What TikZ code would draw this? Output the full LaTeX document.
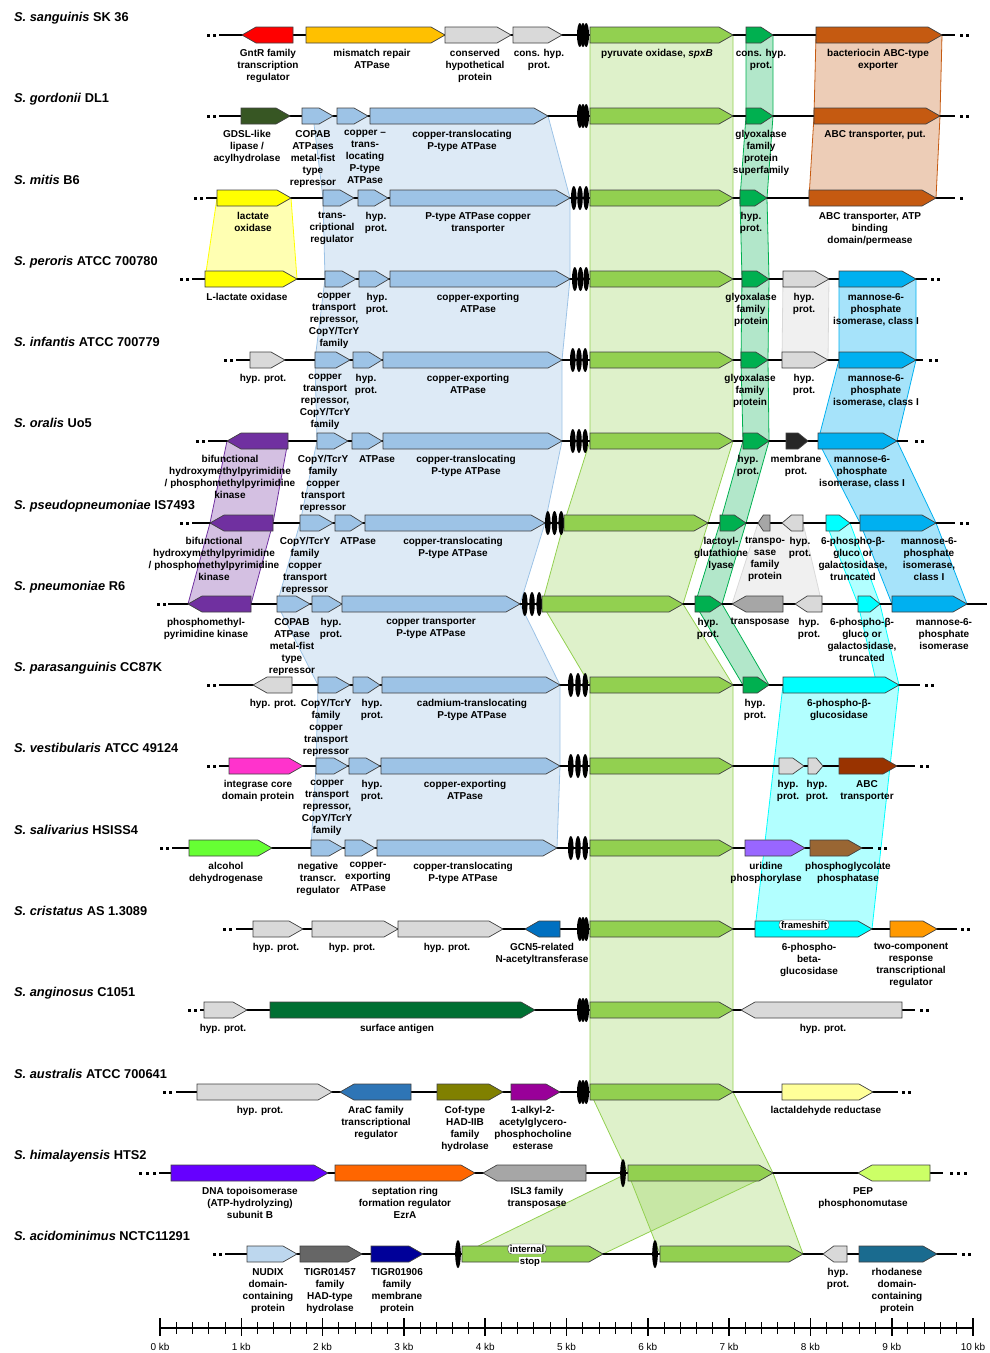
\documentclass[tikz,border=0pt]{standalone}
\usepackage{fontspec}
\setmainfont{Liberation Sans}
\usepackage{tikz}
\usetikzlibrary{positioning}

\definecolor{spx}{HTML}{92D050}
\definecolor{cop}{HTML}{9DC3E6}
\definecolor{gly}{HTML}{00B050}
\definecolor{hyp}{HTML}{D9D9D9}
\definecolor{tra}{HTML}{A6A6A6}
\definecolor{abc}{HTML}{C55A11}
\definecolor{lox}{HTML}{FFFF00}
\definecolor{man}{HTML}{00B0F0}
\definecolor{cya}{HTML}{00FFFF}
\definecolor{pur}{HTML}{7030A0}
\definecolor{mis}{HTML}{FFC000}
\definecolor{gdsl}{HTML}{375623}
\definecolor{memb}{HTML}{262626}
\definecolor{mag}{HTML}{FF33CC}
\definecolor{brn}{HTML}{993300}
\definecolor{alc}{HTML}{66FF33}
\definecolor{uri}{HTML}{9966FF}
\definecolor{pgp}{HTML}{996633}
\definecolor{gcn}{HTML}{0070C0}
\definecolor{two}{HTML}{FF9900}
\definecolor{sfa}{HTML}{007033}
\definecolor{arac}{HTML}{2E75B6}
\definecolor{cof}{HTML}{808000}
\definecolor{alk}{HTML}{990099}
\definecolor{lald}{HTML}{FFFF99}
\definecolor{topo}{HTML}{6600FF}
\definecolor{sept}{HTML}{FF6600}
\definecolor{pep}{HTML}{CCFF66}
\definecolor{nud}{HTML}{BDD7EE}
\definecolor{tiga}{HTML}{666666}
\definecolor{tigb}{HTML}{000099}
\definecolor{rho}{HTML}{1A6B8F}

\tikzstyle{gene}=[draw=black!75,line width=0.7pt]
\tikzstyle{track}=[line width=2.4pt,black]
\tikzstyle{glab}=[anchor=north,align=center,inner sep=0pt,font=\fontsize{10}{12}\selectfont\bfseries]
\tikzstyle{sp}=[anchor=base west,inner sep=0pt,font=\fontsize{12.8}{14}\selectfont\bfseries]
\tikzstyle{fsbox}=[fill=white,draw=black!75,rounded corners=4pt,inner xsep=2pt,inner ysep=1.5pt,font=\fontsize{9.5}{10}\selectfont\bfseries]
\tikzset{band/.style={fill=#1,fill opacity=.3,draw=#1,line width=.8pt}}

% gene arrow: fill, start, end, row, r/l
\newcommand{\gene}[5]{%
  \pgfmathsetmacro{\ghead}{min(14,0.45*(#3-#2))}
  \ifx r#5
    \filldraw[gene,fill=#1] (#2,#4-8) -- ({#3-\ghead},#4-8) -- (#3,#4) -- ({#3-\ghead},#4+8) -- (#2,#4+8) -- cycle;
  \else
    \filldraw[gene,fill=#1] (#3,#4-8) -- ({#2+\ghead},#4-8) -- (#2,#4) -- ({#2+\ghead},#4+8) -- (#3,#4+8) -- cycle;
  \fi}
% contig break: left, row, width
\newcommand{\brk}[3]{%
  \fill (#1+2.8,#2) ellipse (2.8pt and 12pt);
  \fill ({#1+#3/2},#2) ellipse (2.8pt and 12pt);
  \fill ({#1+#3-2.8},#2) ellipse (2.8pt and 12pt);}
\newcommand{\sbrk}[2]{\fill (#1,#2) ellipse (2.8pt and 14pt);}
\newcommand{\trk}[3]{\draw[track] (#1,#3) -- (#2,#3);}
\newcommand{\dt}[2]{\fill (#1-1.5,#2-1.5) rectangle (#1+1.5,#2+1.5);}
\newcommand{\lbl}[4]{\node[glab] (#1) at (#2,#3+14) {#4};}

\begin{document}
\begin{tikzpicture}[x=1pt,y=-1pt]
\useasboundingbox (0,0) rectangle (989,1353);

% homology bands
\filldraw[band=spx] (590,35) -- (590,441) -- (564,523) -- (542,604) -- (590,685) -- (590,1092) -- (628,1173) -- (660,1254) -- (803,1254) -- (773,1173) -- (733,1092) -- (733,685) -- (683,604) -- (708,523) -- (733,441) -- (733,35) -- cycle;
\filldraw[band=spx] (628,1173) -- (773,1173) -- (603,1254) -- (462,1254) -- cycle;
\filldraw[band=cop,fill opacity=.35] (313,116) -- (323,198) -- (325,279) -- (315,360) -- (317,441) -- (300,523) -- (277,604) -- (318,685) -- (316,766) -- (311,848) -- (557,848) -- (560,766) -- (560,685) -- (520,604) -- (545,523) -- (562,441) -- (562,360) -- (570,279) -- (570,198) -- (548,116) -- cycle;
\filldraw[band=gly] (746,35) -- (746,116) -- (740,198) -- (742,279) -- (741,360) -- (743,441) -- (720,523) -- (695,604) -- (743,685) -- (769,685) -- (722,604) -- (746,523) -- (769,441) -- (768,360) -- (769,279) -- (767,198) -- (773,116) -- (773,35) -- cycle;
\filldraw[band=abc] (816,35) -- (814,116) -- (809,198) -- (936,198) -- (940,116) -- (942,35) -- cycle;
\filldraw[band=lox] (217,198) -- (205,279) -- (297,279) -- (291,198) -- cycle;
\filldraw[band=hyp,fill opacity=.4] (783,279) -- (782,360) -- (828,360) -- (829,279) -- cycle;
\filldraw[band=man,fill opacity=.35] (839,279) -- (839,360) -- (818,441) -- (860,523) -- (892,604) -- (967,604) -- (936,523) -- (897,441) -- (916,360) -- (916,279) -- cycle;
\filldraw[band=pur] (227,441) -- (210,523) -- (188,604) -- (251,604) -- (273,523) -- (288,441) -- cycle;
\filldraw[band=hyp,fill opacity=.4] (758,523) -- (732,604) -- (822,604) -- (803,523) -- cycle;
\filldraw[band=cya] (826,523) -- (858,604) -- (880,604) -- (850,523) -- cycle;
\filldraw[band=cya] (858,604) -- (877,685) -- (899,685) -- (880,604) -- cycle;
\filldraw[band=cya] (783,685) -- (755,929) -- (872,929) -- (899,685) -- cycle;

% S. sanguinis
\node[sp] (sang) at (14,21) {\textit{S. sanguinis} SK 36};
\dt{208}{35}\dt{214}{35}\trk{219}{955}{35}\dt{961}{35}\dt{967}{35}
\gene{red}{242}{293}{35}{l}
\gene{mis}{306}{445}{35}{r}
\gene{hyp}{445}{511}{35}{r}
\gene{hyp}{513}{562}{35}{r}
\brk{577}{35}{12}
\gene{spx}{590}{733}{35}{r}
\gene{gly}{746}{773}{35}{r}
\gene{abc}{816}{942}{35}{r}
\lbl{a1}{268}{35}{GntR family\\transcription\\regulator}
\lbl{a2}{372}{35}{mismatch repair\\ATPase}
\lbl{a3}{475}{35}{conserved\\hypothetical\\protein}
\lbl{a4}{539}{35}{cons. hyp.\\prot.}
\lbl{a5}{657}{35}{pyruvate oxidase, \textit{spxB}}
\lbl{a6}{761}{35}{cons. hyp.\\prot.}
\lbl{a7}{878}{35}{bacteriocin ABC-type\\exporter}

% S. gordonii
\node[sp] (gord) at (14,102) {\textit{S. gordonii} DL1};
\dt{208}{116}\dt{214}{116}\trk{219}{955}{116}\dt{961}{116}\dt{967}{116}
\gene{gdsl}{241}{290}{116}{r}
\gene{cop}{302}{333}{116}{r}
\gene{cop}{337}{368}{116}{r}
\gene{cop}{370}{548}{116}{r}
\brk{577}{116}{12}
\gene{spx}{590}{733}{116}{r}
\gene{gly}{746}{773}{116}{r}
\gene{abc}{814}{940}{116}{r}
\lbl{b1}{247}{116}{GDSL-like\\lipase /\\acylhydrolase}
\lbl{b2}{313}{116}{COPAB\\ATPases\\metal-fist\\type\\repressor}
\lbl{b3}{365}{116}{copper --\\trans-\\locating\\P-type\\ATPase}
\lbl{b4}{462}{116}{copper-translocating\\P-type ATPase}
\lbl{b5}{761}{116}{glyoxalase\\family\\protein\\superfamily}
\lbl{b6}{875}{116}{ABC transporter, put.}

% S. mitis
\node[sp] (mitis) at (14,184) {\textit{S. mitis} B6};
\dt{195}{198}\dt{201}{198}\trk{206}{955}{198}\dt{961}{198}
\gene{lox}{217}{291}{198}{r}
\gene{cop}{323}{354}{198}{r}
\gene{cop}{358}{388}{198}{r}
\gene{cop}{390}{570}{198}{r}
\brk{571}{198}{18}
\gene{spx}{590}{733}{198}{r}
\gene{gly}{740}{767}{198}{r}
\gene{abc}{809}{936}{198}{r}
\lbl{c1}{253}{198}{lactate\\oxidase}
\lbl{c2}{332}{198}{trans-\\criptional\\regulator}
\lbl{c3}{376}{198}{hyp.\\prot.}
\lbl{c4}{478}{198}{P-type ATPase copper\\transporter}
\lbl{c5}{751}{198}{hyp.\\prot.}
\lbl{c6}{870}{198}{ABC transporter, ATP\\binding\\domain/permease}

% S. peroris
\node[sp] (peroris) at (14,265) {\textit{S. peroris} ATCC 700780};
\dt{181}{279}\dt{187}{279}\trk{192}{927}{279}\dt{932}{279}\dt{938}{279}
\gene{lox}{205}{297}{279}{r}
\gene{cop}{325}{356}{279}{r}
\gene{cop}{359}{389}{279}{r}
\gene{cop}{390}{570}{279}{r}
\brk{572}{279}{17}
\gene{spx}{590}{733}{279}{r}
\gene{gly}{742}{769}{279}{r}
\gene{hyp}{783}{829}{279}{r}
\gene{man}{839}{916}{279}{r}
\lbl{d1}{247}{279}{L-lactate oxidase}
\lbl{d2}{334}{279}{copper\\transport\\repressor,\\CopY/TcrY\\family}
\lbl{d3}{377}{279}{hyp.\\prot.}
\lbl{d4}{478}{279}{copper-exporting\\ATPase}
\lbl{d5}{751}{279}{glyoxalase\\family\\protein}
\lbl{d6}{804}{279}{hyp.\\prot.}
\lbl{d7}{876}{279}{mannose-6-\\phosphate\\isomerase, class I}

% S. infantis
\node[sp] (infantis) at (14,346) {\textit{S. infantis} ATCC 700779};
\dt{225}{360}\dt{231}{360}\trk{236}{923}{360}\dt{930}{360}\dt{936}{360}
\gene{hyp}{250}{285}{360}{r}
\gene{cop}{315}{350}{360}{r}
\gene{cop}{353}{382}{360}{r}
\gene{cop}{383}{562}{360}{r}
\brk{570}{360}{18}
\gene{spx}{590}{733}{360}{r}
\gene{gly}{741}{768}{360}{r}
\gene{hyp}{782}{828}{360}{r}
\gene{man}{839}{916}{360}{r}
\lbl{e1}{263}{360}{hyp. prot.}
\lbl{e2}{325}{360}{copper\\transport\\repressor,\\CopY/TcrY\\family}
\lbl{e3}{366}{360}{hyp.\\prot.}
\lbl{e4}{468}{360}{copper-exporting\\ATPase}
\lbl{e5}{750}{360}{glyoxalase\\family\\protein}
\lbl{e6}{804}{360}{hyp.\\prot.}
\lbl{e7}{876}{360}{mannose-6-\\phosphate\\isomerase, class I}

% S. oralis
\node[sp] (oralis) at (14,427) {\textit{S. oralis} Uo5};
\dt{197}{441}\dt{203}{441}\trk{208}{908}{441}\dt{916}{441}\dt{922}{441}
\gene{pur}{227}{288}{441}{l}
\gene{cop}{317}{348}{441}{r}
\gene{cop}{352}{382}{441}{r}
\gene{cop}{383}{562}{441}{r}
\brk{570}{441}{18}
\gene{spx}{590}{733}{441}{r}
\gene{gly}{743}{769}{441}{r}
\gene{memb}{786}{808}{441}{r}
\gene{man}{818}{897}{441}{r}
\lbl{f1}{230}{441}{bifunctional\\hydroxymethylpyrimidine\\/ phosphomethylpyrimidine\\kinase}
\lbl{f2}{323}{441}{CopY/TcrY\\family\\copper\\transport\\repressor}
\lbl{f3}{377}{441}{ATPase}
\lbl{f4}{466}{441}{copper-translocating\\P-type ATPase}
\lbl{f5}{748}{441}{hyp.\\prot.}
\lbl{f6}{796}{441}{membrane\\prot.}
\lbl{f7}{862}{441}{mannose-6-\\phosphate\\isomerase, class I}

% S. pseudopneumoniae
\node[sp] (pseudo) at (14,509) {\textit{S. pseudopneumoniae} IS7493};
\dt{181}{523}\dt{187}{523}\trk{192}{955}{523}\dt{961}{523}\dt{967}{523}
\gene{pur}{210}{273}{523}{l}
\gene{cop}{300}{333}{523}{r}
\gene{cop}{335}{363}{523}{r}
\gene{cop}{365}{545}{523}{r}
\brk{545}{523}{19}
\gene{spx}{564}{708}{523}{r}
\gene{gly}{720}{746}{523}{r}
\gene{tra}{758}{770}{523}{l}
\gene{hyp}{782}{803}{523}{l}
\gene{cya}{826}{850}{523}{r}
\gene{man}{860}{936}{523}{r}
\lbl{g1}{214}{523}{bifunctional\\hydroxymethylpyrimidine\\/ phosphomethylpyrimidine\\kinase}
\lbl{g2}{305}{523}{CopY/TcrY\\family\\copper\\transport\\repressor}
\lbl{g3}{358}{523}{ATPase}
\lbl{g4}{453}{523}{copper-translocating\\P-type ATPase}
\lbl{g5}{721}{523}{lactoyl-\\glutathione\\lyase}
\lbl{g6}{765}{523}{transpo-\\sase\\family\\protein}
\lbl{g7}{800}{523}{hyp.\\prot.}
\lbl{g8}{853}{523}{6-phospho-β-\\gluco or\\galactosidase,\\truncated}
\lbl{g9}{929}{523}{mannose-6-\\phosphate\\isomerase,\\class I}

% S. pneumoniae
\node[sp] (pneumo) at (14,590) {\textit{S. pneumoniae} R6};
\dt{158}{604}\dt{164}{604}\trk{168}{987}{604}
\gene{pur}{188}{251}{604}{l}
\gene{cop}{277}{310}{604}{r}
\gene{cop}{312}{342}{604}{r}
\gene{cop}{342}{520}{604}{r}
\brk{522}{604}{20}
\gene{spx}{542}{683}{604}{r}
\gene{gly}{695}{722}{604}{r}
\gene{tra}{732}{783}{604}{l}
\gene{hyp}{795}{822}{604}{l}
\gene{cya}{858}{880}{604}{r}
\gene{man}{892}{967}{604}{r}
\lbl{h1}{206}{604}{phosphomethyl-\\pyrimidine kinase}
\lbl{h2}{292}{604}{COPAB\\ATPase\\metal-fist\\type\\repressor}
\lbl{h3}{331}{604}{hyp.\\prot.}
\lbl{h4}{431}{604}{copper transporter\\P-type ATPase}
\lbl{h5}{708}{604}{hyp.\\prot.}
\lbl{h6}{760}{604}{transposase}
\lbl{h7}{809}{604}{hyp.\\prot.}
\lbl{h8}{862}{604}{6-phospho-β-\\gluco or\\galactosidase,\\truncated}
\lbl{h9}{944}{604}{mannose-6-\\phosphate\\isomerase}

% S. parasanguinis
\node[sp] (para) at (14,671) {\textit{S. parasanguinis} CC87K};
\dt{208}{685}\dt{214}{685}\trk{219}{920}{685}\dt{926}{685}\dt{932}{685}
\gene{hyp}{253}{292}{685}{l}
\gene{cop}{318}{350}{685}{r}
\gene{cop}{353}{380}{685}{r}
\gene{cop}{382}{560}{685}{r}
\brk{568}{685}{20}
\gene{spx}{590}{733}{685}{r}
\gene{gly}{743}{769}{685}{r}
\gene{cya}{783}{899}{685}{r}
\lbl{i1}{273}{685}{hyp. prot.}
\lbl{i2}{326}{685}{CopY/TcrY\\family\\copper\\transport\\repressor}
\lbl{i3}{372}{685}{hyp.\\prot.}
\lbl{i4}{472}{685}{cadmium-translocating\\P-type ATPase}
\lbl{i5}{755}{685}{hyp.\\prot.}
\lbl{i6}{839}{685}{6-phospho-β-\\glucosidase}

% S. vestibularis
\node[sp] (vest) at (14,752) {\textit{S. vestibularis} ATCC 49124};
\dt{208}{766}\dt{214}{766}\trk{219}{915}{766}\dt{921}{766}\dt{927}{766}
\gene{mag}{229}{303}{766}{r}
\gene{cop}{316}{348}{766}{r}
\gene{cop}{349}{380}{766}{r}
\gene{cop}{381}{560}{766}{r}
\brk{568}{766}{20}
\gene{spx}{590}{733}{766}{r}
\gene{hyp}{779}{804}{766}{r}
\gene{hyp}{808}{823}{766}{r}
\gene{brn}{839}{897}{766}{r}
\lbl{j1}{258}{766}{integrase core\\domain protein}
\lbl{j2}{327}{766}{copper\\transport\\repressor,\\CopY/TcrY\\family}
\lbl{j3}{372}{766}{hyp.\\prot.}
\lbl{j4}{465}{766}{copper-exporting\\ATPase}
\lbl{j5}{788}{766}{hyp.\\prot.}
\lbl{j6}{817}{766}{hyp.\\prot.}
\lbl{j7}{867}{766}{ABC\\transporter}

% S. salivarius
\node[sp] (saliv) at (14,834) {\textit{S. salivarius} HSISS4};
\dt{161}{848}\dt{167}{848}\trk{172}{873}{848}\dt{879}{848}\dt{885}{848}
\gene{alc}{189}{272}{848}{r}
\gene{cop}{311}{343}{848}{r}
\gene{cop}{345}{375}{848}{r}
\gene{cop}{377}{557}{848}{r}
\brk{568}{848}{20}
\gene{spx}{590}{733}{848}{r}
\gene{uri}{745}{805}{848}{r}
\gene{pgp}{810}{862}{848}{r}
\lbl{k1}{226}{848}{alcohol\\dehydrogenase}
\lbl{k2}{318}{848}{negative\\transcr.\\regulator}
\lbl{k3}{368}{848}{copper-\\exporting\\ATPase}
\lbl{k4}{463}{848}{copper-translocating\\P-type ATPase}
\lbl{k5}{766}{848}{uridine\\phosphorylase}
\lbl{k6}{848}{848}{phosphoglycolate\\phosphatase}

% S. cristatus
\node[sp] (crist) at (14,915) {\textit{S. cristatus} AS 1.3089};
\dt{224}{929}\dt{230}{929}\trk{236}{957}{929}\dt{962}{929}\dt{968}{929}
\gene{hyp}{253}{303}{929}{r}
\gene{hyp}{312}{398}{929}{r}
\gene{hyp}{398}{503}{929}{r}
\gene{gcn}{525}{560}{929}{l}
\brk{577}{929}{12}
\gene{spx}{590}{733}{929}{r}
\gene{cya}{755}{872}{929}{r}
\node[fsbox] (fs) at (804,925) {frameshift};
\gene{two}{890}{937}{929}{r}
\lbl{l1}{276}{929}{hyp. prot.}
\lbl{l2}{352}{929}{hyp. prot.}
\lbl{l3}{447}{929}{hyp. prot.}
\lbl{l4}{542}{929}{GCN5-related\\N-acetyltransferase}
\lbl{l5}{809}{929}{6-phospho-\\beta-\\glucosidase}
\lbl{l6}{911}{929}{two-component\\response\\transcriptional\\regulator}

% S. anginosus
\node[sp] (angin) at (14,996) {\textit{S. anginosus} C1051};
\dt{189}{1010}\dt{195}{1010}\trk{200}{915}{1010}\dt{921}{1010}\dt{927}{1010}
\gene{hyp}{204}{247}{1010}{r}
\gene{sfa}{270}{535}{1010}{r}
\brk{577}{1010}{12}
\gene{spx}{590}{733}{1010}{r}
\gene{hyp}{741}{902}{1010}{l}
\lbl{m1}{223}{1010}{hyp. prot.}
\lbl{m2}{397}{1010}{surface antigen}
\lbl{m3}{823}{1010}{hyp. prot.}

% S. australis
\node[sp] (austr) at (14,1078) {\textit{S. australis} ATCC 700641};
\dt{164}{1092}\dt{170}{1092}\trk{176}{898}{1092}\dt{903}{1092}\dt{909}{1092}
\gene{hyp}{197}{332}{1092}{r}
\gene{arac}{340}{411}{1092}{l}
\gene{cof}{437}{503}{1092}{r}
\gene{alk}{511}{560}{1092}{r}
\brk{577}{1092}{12}
\gene{spx}{590}{733}{1092}{r}
\gene{lald}{782}{873}{1092}{r}
\lbl{n1}{260}{1092}{hyp. prot.}
\lbl{n2}{376}{1092}{AraC family\\transcriptional\\regulator}
\lbl{n3}{465}{1092}{Cof-type\\HAD-IIB\\family\\hydrolase}
\lbl{n4}{533}{1092}{1-alkyl-2-\\acetylglycero-\\phosphocholine\\esterase}
\lbl{n5}{826}{1092}{lactaldehyde reductase}

% S. himalayensis
\node[sp] (himal) at (14,1159) {\textit{S. himalayensis} HTS2};
\dt{140}{1173}\dt{147}{1173}\dt{154}{1173}\trk{159}{943}{1173}\dt{951}{1173}\dt{958}{1173}\dt{965}{1173}
\gene{topo}{171}{328}{1173}{r}
\gene{sept}{335}{475}{1173}{r}
\gene{tra}{483}{586}{1173}{l}
\sbrk{623}{1173}
\gene{spx}{628}{773}{1173}{r}
\gene{pep}{858}{930}{1173}{l}
\lbl{o1}{250}{1173}{DNA topoisomerase\\(ATP-hydrolyzing)\\subunit B}
\lbl{o2}{405}{1173}{septation ring\\formation regulator\\EzrA}
\lbl{o3}{537}{1173}{ISL3 family\\transposase}
\lbl{o4}{863}{1173}{PEP\\phosphonomutase}

% S. acidominimus
\node[sp] (acido) at (14,1240) {\textit{S. acidominimus} NCTC11291};
\dt{214}{1254}\dt{220}{1254}\trk{225}{957}{1254}\dt{963}{1254}\dt{969}{1254}
\gene{nud}{247}{297}{1254}{r}
\gene{tiga}{300}{362}{1254}{r}
\gene{tigb}{371}{423}{1254}{r}
\sbrk{458}{1254}
\gene{spx}{462}{603}{1254}{r}
\node[fsbox] (istop) at (527,1249) {internal};
\node[fill=white,inner sep=0.5pt,font=\fontsize{9.5}{10}\selectfont\bfseries] (stp) at (530,1262) {stop};
\sbrk{655}{1254}
\gene{spx}{660}{803}{1254}{r}
\gene{hyp}{823}{847}{1254}{l}
\gene{rho}{859}{937}{1254}{r}
\lbl{p1}{268}{1254}{NUDIX\\domain-\\containing\\protein}
\lbl{p2}{330}{1254}{TIGR01457\\family\\HAD-type\\hydrolase}
\lbl{p3}{397}{1254}{TIGR01906\\family\\membrane\\protein}
\lbl{p4}{838}{1254}{hyp.\\prot.}
\lbl{p5}{897}{1254}{rhodanese\\domain-\\containing\\protein}

% scale bar
\draw[line width=1.6pt] (160,1328) -- (973,1328);
\foreach \m in {0,...,50} \draw[line width=1pt] (160+16.26*\m,1322) -- (160+16.26*\m,1334);
\foreach \k in {0,...,10} {
  \draw[line width=1.6pt] (160+81.3*\k,1318) -- (160+81.3*\k,1336);
  \node[anchor=base,inner sep=0pt,font=\fontsize{10}{12}\selectfont] (kb\k) at (160+81.3*\k,1350) {\k\ kb};
}
\end{tikzpicture}
\end{document}
